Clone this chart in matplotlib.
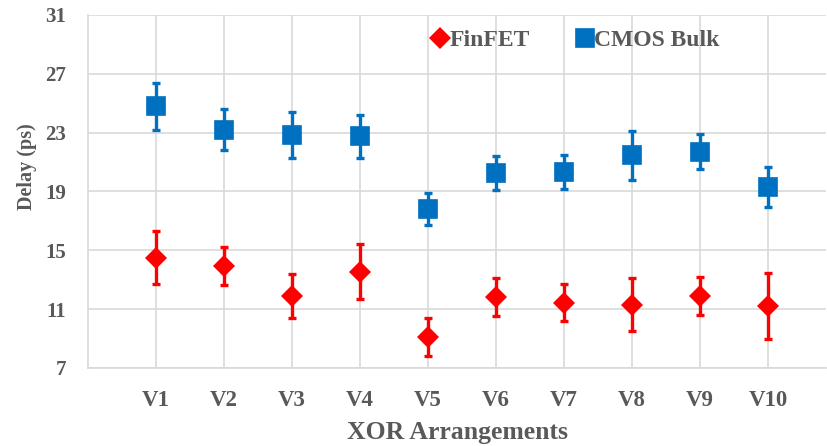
import numpy as np
import matplotlib
matplotlib.use("Agg")
import matplotlib.pyplot as plt

# Data
versions = ['V1', 'V2', 'V3', 'V4', 'V5', 'V6', 'V7', 'V8', 'V9', 'V10']
finfet = [14.5, 13.95, 11.9, 13.55, 9.1, 11.8, 11.45, 11.3, 11.9, 11.2]
finfet_err = [1.8, 1.3, 1.5, 1.85, 1.3, 1.3, 1.25, 1.8, 1.3, 2.25]
cmos = [24.8, 23.2, 22.85, 22.75, 17.8, 20.25, 20.35, 21.45, 21.7, 19.3]
cmos_err = [1.6, 1.4, 1.55, 1.45, 1.1, 1.15, 1.15, 1.65, 1.2, 1.35]

red = '#FF0000'
blue = '#0070C0'
grey = '#595959'
grid = '#D9D9D9'

plt.rcParams['font.family'] = ['Liberation Serif', 'DejaVu Serif']
plt.rcParams['font.weight'] = 'bold'

fig = plt.figure(figsize=(8.27, 4.46), dpi=100)
ax = fig.add_axes([0.1064, 0.175, 0.8924, 0.7914])

x = np.arange(1, len(versions) + 1)

# error bars
ax.errorbar(x, cmos, yerr=cmos_err, fmt='none', ecolor=blue, elinewidth=2.4,
            capsize=3.2, capthick=2.4, zorder=3)
ax.errorbar(x, finfet, yerr=finfet_err, fmt='none', ecolor=red, elinewidth=2.4,
            capsize=3.2, capthick=2.4, zorder=3)
# markers
ax.plot(x, finfet, 'D', color=red, markersize=11, markeredgewidth=0, label='FinFET', zorder=4)
ax.plot(x, cmos, 's', color=blue, markersize=13, markeredgecolor=blue, markeredgewidth=1.2,
        label='CMOS Bulk', zorder=4)

ax.set_xlim(0, 10.85)
ax.set_ylim(7, 31)
ax.set_yticks([7, 11, 15, 19, 23, 27, 31])
ax.set_xticks(x)
ax.set_xticklabels(versions)

ax.grid(True, color=grid, linewidth=1.2)
ax.set_axisbelow(True)
for s in ['top', 'right']:
    ax.spines[s].set_visible(False)
for s in ['left', 'bottom']:
    ax.spines[s].set_color(grid)
    ax.spines[s].set_linewidth(1.2)

ax.tick_params(axis='both', length=0, labelcolor=grey)
ax.tick_params(axis='x', pad=16, labelsize=16.5)
ax.tick_params(axis='y', pad=16, labelsize=15)

ax.set_xlabel('XOR Arrangements', fontsize=18.5, color=grey, fontweight='bold', labelpad=7)
ax.set_ylabel('Delay (ps)', fontsize=14.5, color=grey, fontweight='bold')
ax.yaxis.set_label_coords(-0.069, 0.569)

leg = ax.legend(loc='center', bbox_to_anchor=(0.697, 0.91), bbox_transform=fig.transFigure,
                ncol=2, frameon=False, fontsize=17, handlelength=0.6, handletextpad=0.1,
                columnspacing=2.0, borderpad=0)
for t in leg.get_texts():
    t.set_color(grey)

plt.savefig('out.png', dpi=100)
